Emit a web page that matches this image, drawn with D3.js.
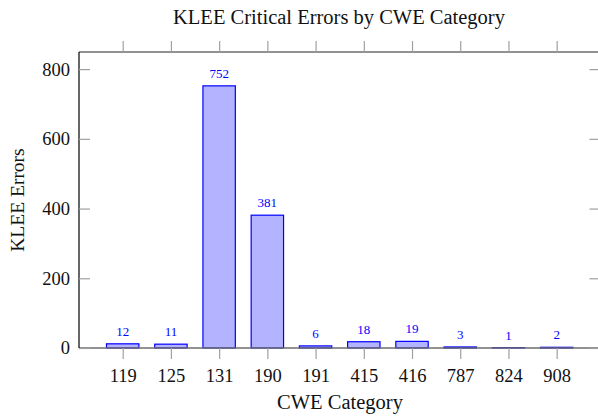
<!DOCTYPE html>
<html><head><meta charset="utf-8">
<script src="https://cdn.jsdelivr.net/npm/d3@7"></script>
<style>body{margin:0;background:#fff}svg{display:block}text{font-family:"Liberation Serif","DejaVu Serif",serif}</style>
</head><body><svg id="c" width="598" height="419"></svg>
<script>
const categories = ["119","125","131","190","191","415","416","787","824","908"];
const values = [12,11,752,381,6,18,19,3,1,2];
const yTicks = [0,200,400,600,800];

const svg = d3.select("#c");
const L = 79, R = 600.5, T = 52, B = 348;
const step = 48.22;
const x = d3.scalePoint().domain(categories).range([122.7, 122.7 + step*9]);
const y = d3.scaleLinear().domain([0, 850]).range([B, B - 850*0.3486]);
const bw = 32.4;

// bars
svg.append("g").selectAll("rect").data(values).join("rect")
  .attr("x", (d,i) => x(categories[i]) - bw/2)
  .attr("y", d => y(d))
  .attr("width", bw)
  .attr("height", d => B - y(d))
  .attr("fill", "#b3b3ff").attr("stroke", "#0000ff").attr("stroke-width", 1.2);

// value labels
svg.append("g").selectAll("text").data(values).join("text")
  .attr("x", (d,i) => x(categories[i]))
  .attr("y", d => y(d) - 8)
  .attr("text-anchor", "middle").attr("font-size", 13).attr("fill", "#0000ff")
  .text(d => d);

// frame
svg.append("line").attr("x1", L).attr("x2", R).attr("y1", T).attr("y2", T).attr("stroke", "#6e6e6e").attr("stroke-width", 1.3);
svg.append("line").attr("x1", L).attr("x2", R).attr("y1", B).attr("y2", B).attr("stroke", "#6e6e6e").attr("stroke-width", 1.3);
svg.append("line").attr("x1", L).attr("x2", L).attr("y1", T).attr("y2", B).attr("stroke", "#000").attr("stroke-width", 1.2);
svg.append("line").attr("x1", R).attr("x2", R).attr("y1", T).attr("y2", B).attr("stroke", "#000").attr("stroke-width", 1.2);

// x ticks (bottom outward, top outward)
const xb = svg.append("g").attr("transform", `translate(0,${B})`)
  .call(d3.axisBottom(x).tickSize(11).tickPadding(0));
xb.select(".domain").remove();
xb.selectAll("line").attr("stroke", "#a0a0a0").attr("stroke-width", 1.2);
xb.selectAll("text").attr("font-size", 18.5).attr("fill", "#111").attr("dy", null).attr("y", 34)
  .attr("font-family", "Liberation Serif,serif");
const xt = svg.append("g").attr("transform", `translate(0,${T})`)
  .call(d3.axisTop(x).tickSize(11).tickFormat(""));
xt.select(".domain").remove();
xt.selectAll("line").attr("stroke", "#a0a0a0").attr("stroke-width", 1.2);

// y ticks (inward)
const yl = svg.append("g").attr("transform", `translate(${L},0)`)
  .call(d3.axisLeft(y).tickValues(yTicks).tickSize(-11).tickPadding(0));
yl.select(".domain").remove();
yl.selectAll("line").attr("stroke", "#a0a0a0").attr("stroke-width", 1.2);
yl.selectAll("text").attr("font-size", 18.5).attr("fill", "#111").attr("x", -9)
  .attr("font-family", "Liberation Serif,serif");
const yr = svg.append("g").attr("transform", `translate(${R},0)`)
  .call(d3.axisRight(y).tickValues(yTicks).tickSize(-11).tickFormat(""));
yr.select(".domain").remove();
yr.selectAll("line").attr("stroke", "#a0a0a0").attr("stroke-width", 1.2);

// titles
svg.append("text").attr("x", 339).attr("y", 24).attr("text-anchor", "middle")
  .attr("font-size", 20.5).attr("fill", "#111").text("KLEE Critical Errors by CWE Category");
svg.append("text").attr("x", 340).attr("y", 409).attr("text-anchor", "middle")
  .attr("font-size", 20.5).attr("fill", "#111").text("CWE Category");
svg.append("text").attr("transform", "translate(24,200) rotate(-90)").attr("text-anchor", "middle")
  .attr("font-size", 19.5).attr("fill", "#111").text("KLEE Errors");
</script></body></html>
